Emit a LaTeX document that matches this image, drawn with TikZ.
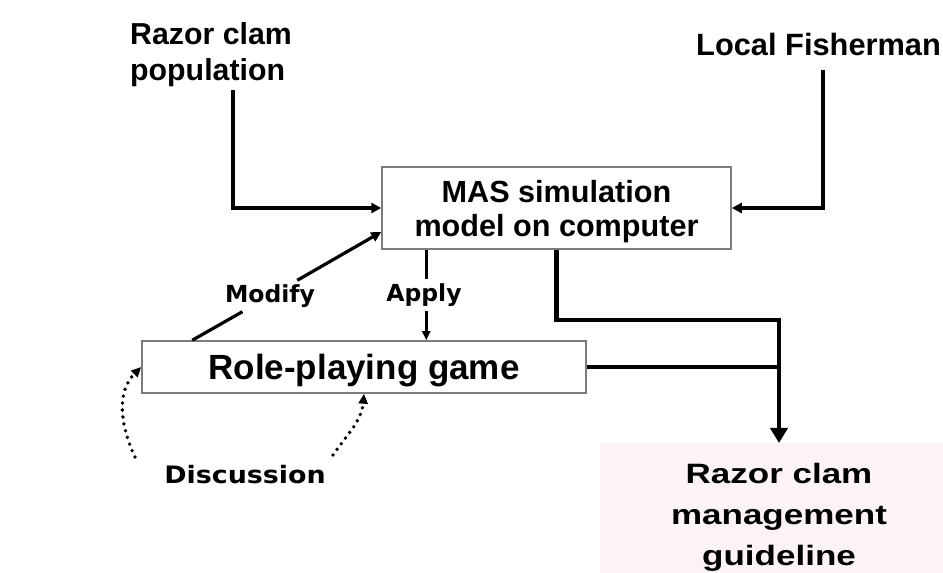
\documentclass[tikz,border=0pt]{standalone}
\usepackage{fontspec}
\setmainfont{Liberation Sans}
\newfontfamily\widesans[FakeStretch=1.25]{Liberation Sans}
\newfontfamily\heavysans{DejaVu Sans Bold}
\newfontfamily\heavywide[FakeStretch=1.12]{DejaVu Sans Bold}
\usetikzlibrary{arrows.meta}
\definecolor{boxgray}{RGB}{125,125,125}
\definecolor{wmpink}{RGB}{253,243,245}

\tikzset{
  box/.style={draw=boxgray, line width=1.5pt, inner sep=0pt, text depth=0pt},
  tag/.style={inner sep=0pt, align=left, font=\bfseries\fontsize{30.3}{36}\selectfont},
  cue/.style={inner sep=4pt, font=\heavysans\fontsize{23.5}{28}\selectfont},
  feed/.style={line width=3.2pt, -{Triangle[length=10pt,width=10pt]}},
  main/.style={line width=4.5pt},
  talk/.style={line width=3.8pt, line cap=round, dash pattern=on 0pt off 7pt, -{Triangle[length=10pt,width=9pt]}},
}

\begin{document}
\begin{tikzpicture}[x=1pt,y=1pt]
    \useasboundingbox (0,0) rectangle (943,573);
    % shaded corner
    \fill[wmpink] (600,0) rectangle (943,130);

    % boxes
    \node[box, minimum width=349pt, minimum height=82pt, align=center,
          font=\bfseries\fontsize{30.6}{34}\selectfont] at (556.5,365) (mas) {MAS simulation\\model on computer};
    \node[box, minimum width=444pt, minimum height=52pt,
          font=\bfseries\fontsize{35}{40}\selectfont] at (364,206) (rpg) {Role-playing game};
    % outer labels
    \node[tag, anchor=north west] at (130,551) (pop) {Razor clam\\population};
    \node[tag, anchor=north west, font=\bfseries\fontsize{30.8}{36}\selectfont] at (696,540) (fish) {Local Fisherman};
    \node[inner sep=0pt, anchor=north, align=center,
          font=\widesans\bfseries\fontsize{28}{41}\selectfont] at (779,110) (guide) {Razor clam\\management\\guideline};
    % arrow labels
    \node[cue] at (270,277) (modify) {Modify};
    \node[cue] at (424,278) (apply) {Apply};
    \node[cue, inner sep=0pt, font=\heavywide\fontsize{24}{28}\selectfont] at (245,98) (disc) {Discussion};

    % inputs to the model
    \coordinate (popfoot) at (233,483);
    \coordinate (fishfoot) at (823,503);
    \draw[feed] (popfoot) |- (mas.west);
    \draw[feed] (fishfoot) |- (mas.east);
    % model <-> game
    \draw[line width=3.2pt] ([xshift=51pt]rpg.north west) -- (modify);
    \draw[feed] (modify) -- ([yshift=-24pt]mas.west);
    \coordinate (applytop) at ([xshift=45pt]mas.south west);
    \draw[line width=2.8pt] (applytop) -- (applytop |- apply.north);
    \draw[line width=2.8pt, -{Triangle[length=9pt,width=8pt]}] (applytop |- apply.south) -- (applytop |- rpg.north);
    % discussion loops
    \coordinate (dl) at (135,116);
    \coordinate (dr) at (333,118);
    \draw[talk] (dl) to[out=115, in=225] (rpg.west);
    \draw[talk] (dr) to[out=55, in=265] (rpg.south);
    % outputs to the guideline
    \coordinate (junc) at (779,253);
    \draw[main] (rpg.east) -- (rpg.east -| junc);
    \draw[main, -{Triangle[length=15pt,width=17pt]}] (mas.south) |- (junc) -- ([yshift=20pt]guide.north);
\end{tikzpicture}
\end{document}
